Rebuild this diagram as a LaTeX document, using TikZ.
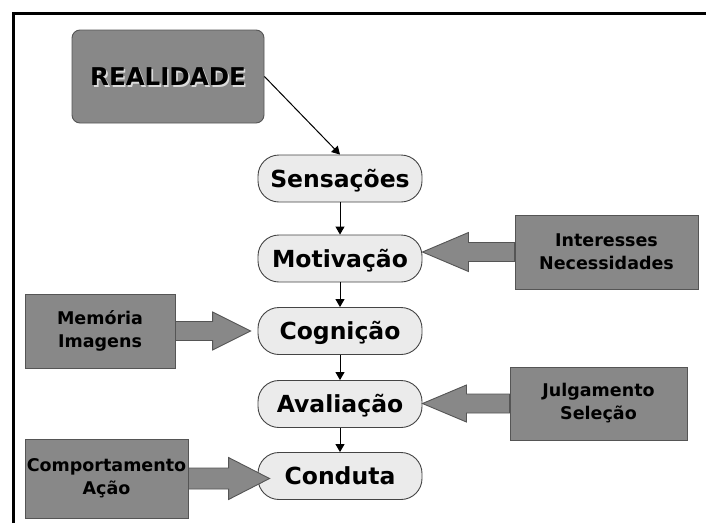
\documentclass[tikz,border=0pt]{standalone}
\usepackage{fontspec}
\setmainfont{DejaVu Sans}
\usetikzlibrary{arrows.meta,calc}
\definecolor{boxgray}{HTML}{888888}
\definecolor{boxline}{HTML}{555555}
\definecolor{pillfill}{HTML}{EBEBEB}
\definecolor{pillline}{HTML}{444444}
\pgfdeclarelayer{back}\pgfdeclarelayer{mid}\pgfsetlayers{back,mid,main}
\newcommand\shadowtxt[1]{\rlap{\hspace{1.6pt}\raisebox{-1.6pt}{\color{white!70!boxgray}#1}}#1}
\begin{document}
\begin{tikzpicture}[x=1pt,y=-1pt,
 pill/.style={draw=pillline, line width=0.9pt, fill=pillfill, rounded corners=21pt,
   minimum width=164pt, minimum height=47pt, inner sep=0pt,
   font=\fontsize{23.5}{28}\selectfont\bfseries, text height=17pt, text depth=0pt},
 infobox/.style={draw=boxline, line width=0.9pt, fill=boxgray, inner sep=0pt, align=center,
   font=\fontsize{17.5}{23}\selectfont\bfseries},
 realbox/.style={draw=boxline, line width=0.9pt, fill=boxgray, rounded corners=8pt,
   minimum width=192pt, minimum height=93pt, inner sep=0pt,
   font=\fontsize{24.5}{29}\selectfont\bfseries, text height=17.9pt, text depth=0pt},
 blk/.style={draw=boxline, line width=0.9pt, fill=boxgray, line join=miter},
 conn/.style={draw=black, line width=1pt, -{Triangle[length=8pt,width=9pt]}}]
\useasboundingbox (0,0) rectangle (706,523);
\draw[line width=3pt] (13.5,523) -- (13.5,13.5) -- (706,13.5);

\node[realbox] (R) at (168,76.5) {\shadowtxt{REALIDADE}};

\begin{pgfonlayer}{back}
\node[pill] (S) at (340,178.5) {Sensações};
\node[pill] (M) at (340,258.5) {Motivação};
\node[pill] (C) at (340,331) {Cognição};
\node[pill] (A) at (340,404) {Avaliação};
\node[pill] (Co) at (340,476) {Conduta};
\end{pgfonlayer}

\node[infobox, minimum width=183pt, minimum height=74pt] (IN) at (606.5,252) {Interesses\\Necessidades};
\node[infobox, minimum width=150pt, minimum height=74pt] (ME) at (100,331) {Memória\\Imagens};
\node[infobox, minimum width=177pt, minimum height=73pt] (JU) at (598.5,403.5) {Julgamento\\Seleção};
\node[infobox, minimum width=163pt, minimum height=79pt] (CP) at (106.5,478.5) {Comportamento\\Ação};

\begin{pgfonlayer}{mid}
\coordinate (t1) at (M.east |- IN.west);
\draw[blk] (t1) -- ($(t1)+(46,-19.5)$) -- ($(t1)+(46,-9.5)$) -- ($(IN.west)+(0,-9.5)$)
  -- ($(IN.west)+(0,9.5)$) -- ($(t1)+(46,9.5)$) -- ($(t1)+(46,19.5)$) -- cycle;
\coordinate (t2) at ($(C.west |- ME.east)+(-7,0)$);
\draw[blk] (t2) -- ($(t2)+(-38,-19)$) -- ($(t2)+(-38,-9.5)$) -- ($(ME.east)+(0,-9.5)$)
  -- ($(ME.east)+(0,9.5)$) -- ($(t2)+(-38,9.5)$) -- ($(t2)+(-38,19)$) -- cycle;
\coordinate (t3) at (A.east |- JU.west);
\draw[blk] (t3) -- ($(t3)+(44,-18.5)$) -- ($(t3)+(44,-9.5)$) -- ($(JU.west)+(0,-9.5)$)
  -- ($(JU.west)+(0,9.5)$) -- ($(t3)+(44,9.5)$) -- ($(t3)+(44,18.5)$) -- cycle;
\coordinate (t4) at ($(Co.west |- CP.east)+(12,0)$);
\draw[blk] (t4) -- ($(t4)+(-41,-21)$) -- ($(t4)+(-41,-10.5)$) -- ($(CP.east)+(0,-10.5)$)
  -- ($(CP.east)+(0,10.5)$) -- ($(t4)+(-41,10.5)$) -- ($(t4)+(-41,21)$) -- cycle;
\end{pgfonlayer}

\draw[conn] (R.east) -- (S.north);
\draw[conn] (S) -- (M);
\draw[conn] (M) -- (C);
\draw[conn] (C) -- (A);
\draw[conn] (A) -- (Co);
\end{tikzpicture}
\end{document}
